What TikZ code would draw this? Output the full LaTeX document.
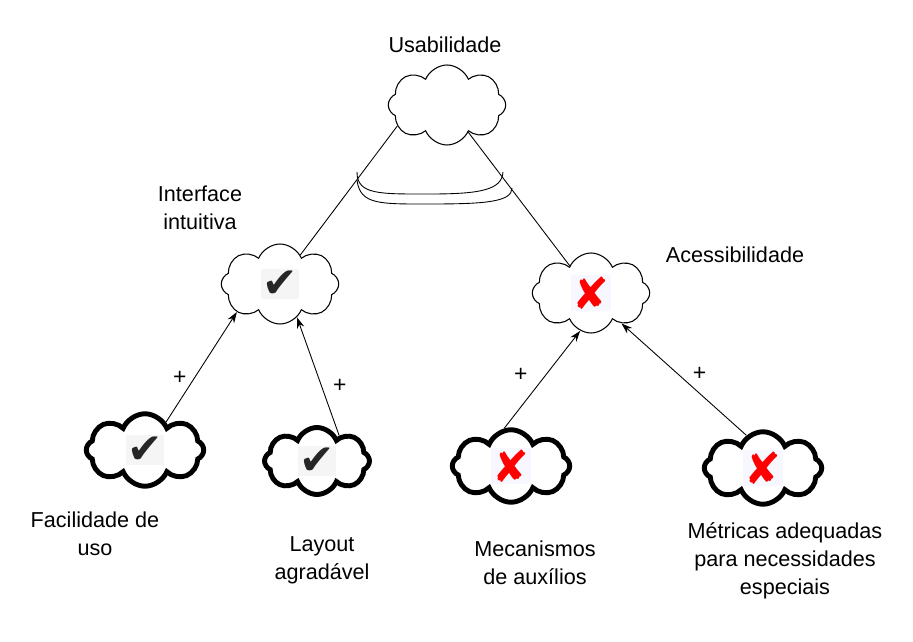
\documentclass[tikz,border=0pt]{standalone}
\usepackage{fontspec}
\setmainfont{Liberation Sans}
\newfontfamily\symfont{DejaVu Sans}
\usetikzlibrary{shapes.symbols}
\usetikzlibrary{positioning}
\usetikzlibrary{arrows.meta}
\tikzset{
    goal/.style={
        cloud, cloud puffs=8, cloud puff arc=135, aspect=1.6,
        draw, fill=white, line width=0.6pt, inner sep=0pt,
        minimum width=23.5mm, minimum height=16mm},
    leaf/.style={
        goal, line width=2.8pt, minimum height=14.5mm},
    glabel/.style={
        align=center,
        font=\fontsize{12.3}{16}\selectfont},
    ok/.style={
        fill=gray!8, inner sep=1pt, text=black!85,
        font=\symfont\fontsize{24}{24}\selectfont},
    nok/.style={
        fill=blue!3, inner sep=1pt, text=red,
        font=\symfont\fontsize{25}{25}\selectfont},
    contrib/.style={
        draw, -{Stealth[length=2.2mm, width=1.5mm]}, line width=0.5pt},
    plus/.style={
        font=\fontsize{13}{13}\selectfont}}

\begin{document}
\begin{tikzpicture}[x=0.2mm,y=-0.2mm]
        \useasboundingbox (0,0) rectangle (913,642);

        % goals
        \node[goal] (usab) at (447,105) {};
        \node[goal] (interf) at (280,284) {};
        \node[goal] (acess) at (591,293) {};
        \node[leaf] (facil) at (145,450) {};
        \node[leaf, minimum width=21mm, minimum height=13.4mm] (layout) at (317,461) {};
        \node[leaf] (mecan) at (511,466) {};
        \node[leaf] (metric) at (763,468) {};

        \node[ok] at (interf) {✔};
        \node[nok] at (acess) {✘};
        \node[ok] at (facil) {✔};
        \node[ok] at (layout) {✔};
        \node[nok] at (mecan) {✘};
        \node[nok] at (metric) {✘};

        % labels
        \node[glabel] (usabtxt) at (445,45) {Usabilidade};
        \node[glabel] (interftxt) at (200,208) {Interface\\intuitiva};
        \node[glabel] (acesstxt) at (735,255) {Acessibilidade};
        \node[glabel] (faciltxt) at (95,534) {Facilidade de\\uso};
        \node[glabel] (layouttxt) at (322,560) {Layout\\agradável};
        \node[glabel] (mecantxt) at (535,563) {Mecanismos\\de auxílios};
        \node[glabel] (metrictxt) at (785,561) {Métricas adequadas\\para necessidades\\especiais};

        % and-decomposition
        \draw[line width=0.5pt] (usab.203) -- (interf.55);
        \draw[line width=0.5pt] (usab.308) -- (acess.128);
        \draw[line width=0.5pt] (357,172) .. controls (357,195) and (380,194) .. (430,194)
            .. controls (480,194) and (502,190) .. (503,172);
        \draw[line width=0.5pt] (357,180) .. controls (360,205) and (380,204) .. (430,204)
            .. controls (485,204) and (512,202) .. (512,188);

        % contributions
        \draw[contrib] (facil.53) -- node[plus, pos=0.4, left=1pt] {+} (interf.213);
        \draw[contrib] (layout.49) -- node[plus, pos=0.42, right=3pt] {+} (interf.297);
        \draw[contrib] (mecan.100) -- node[plus, pos=0.55, left=7pt] {+} (acess.254);
        \draw[contrib] (metric.117) -- node[plus, pos=0.55, right=5pt] {+} (acess.315);
    \end{tikzpicture}
\end{document}
